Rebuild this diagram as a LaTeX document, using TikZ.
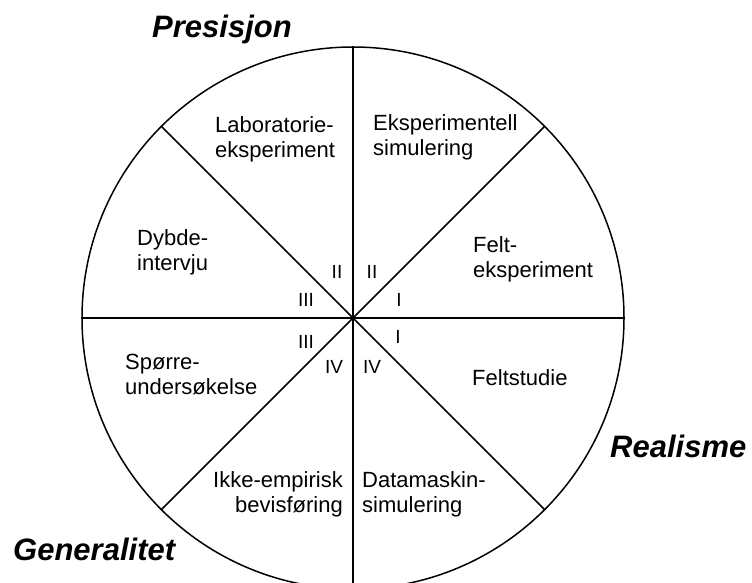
\documentclass[tikz,border=0pt]{standalone}
\usepackage{fontspec}
\setmainfont{Liberation Sans}
\begin{document}
\begin{tikzpicture}[x=1pt,y=-1pt,
  lab/.style={inner sep=0pt, font=\fontsize{22}{25}\selectfont},
  labl/.style={lab, anchor=north west, align=left},
  labr/.style={lab, anchor=north east, align=right},
  num/.style={inner sep=0pt, anchor=center, font=\fontsize{19}{21}\selectfont},
  ttl/.style={inner sep=0pt, anchor=base west, font=\fontsize{31}{33}\selectfont\bfseries\itshape},
  ln/.style={line width=1.5pt}]
\useasboundingbox (0,0) rectangle (752,583);
\clip (0,0) rectangle (752,583);
\node[circle, draw, ln, inner sep=0pt, minimum size=542pt] (c) at (353,318) {};
\draw[ln] (c.north) -- (c.south);
\draw[ln] (c.west) -- (c.east);
\draw[ln] (c.135) -- (c.-45);
\draw[ln] (c.45) -- (c.225);
% sector labels
\node[labl] (lab) at (215,116) {Laboratorie-\\eksperiment};
\node[labl] (eks) at (373,114) {Eksperimentell\\simulering};
\node[labl] (dyb) at (137,229) {Dybde-\\intervju};
\node[labl] (fel) at (473,236) {Felt-\\eksperiment};
\node[labl] (spo) at (125,354) {Spørre-\\undersøkelse};
\node[labl] (fst) at (472,369) {Feltstudie};
\node[labr] (ikk) at (343,471) {Ikke-empirisk\\bevisføring};
\node[labl] (dat) at (362,471) {Datamaskin-\\simulering};
% numerals
\node[num] (n2a) at (337,272) {II};
\node[num] (n2b) at (372,272) {II};
\node[num] (n3a) at (306,300) {III};
\node[num] (n1a) at (399,300) {I};
\node[num] (n3b) at (306,342) {III};
\node[num] (n1b) at (398,337) {I};
\node[num] (n4a) at (334,367) {IV};
\node[num] (n4b) at (372,367) {IV};
% titles
\node[ttl] (pre) at (152,38) {Presisjon};
\node[ttl] (rea) at (610,457) {Realisme};
\node[ttl] (gen) at (13,560) {Generalitet};
\end{tikzpicture}
\end{document}
